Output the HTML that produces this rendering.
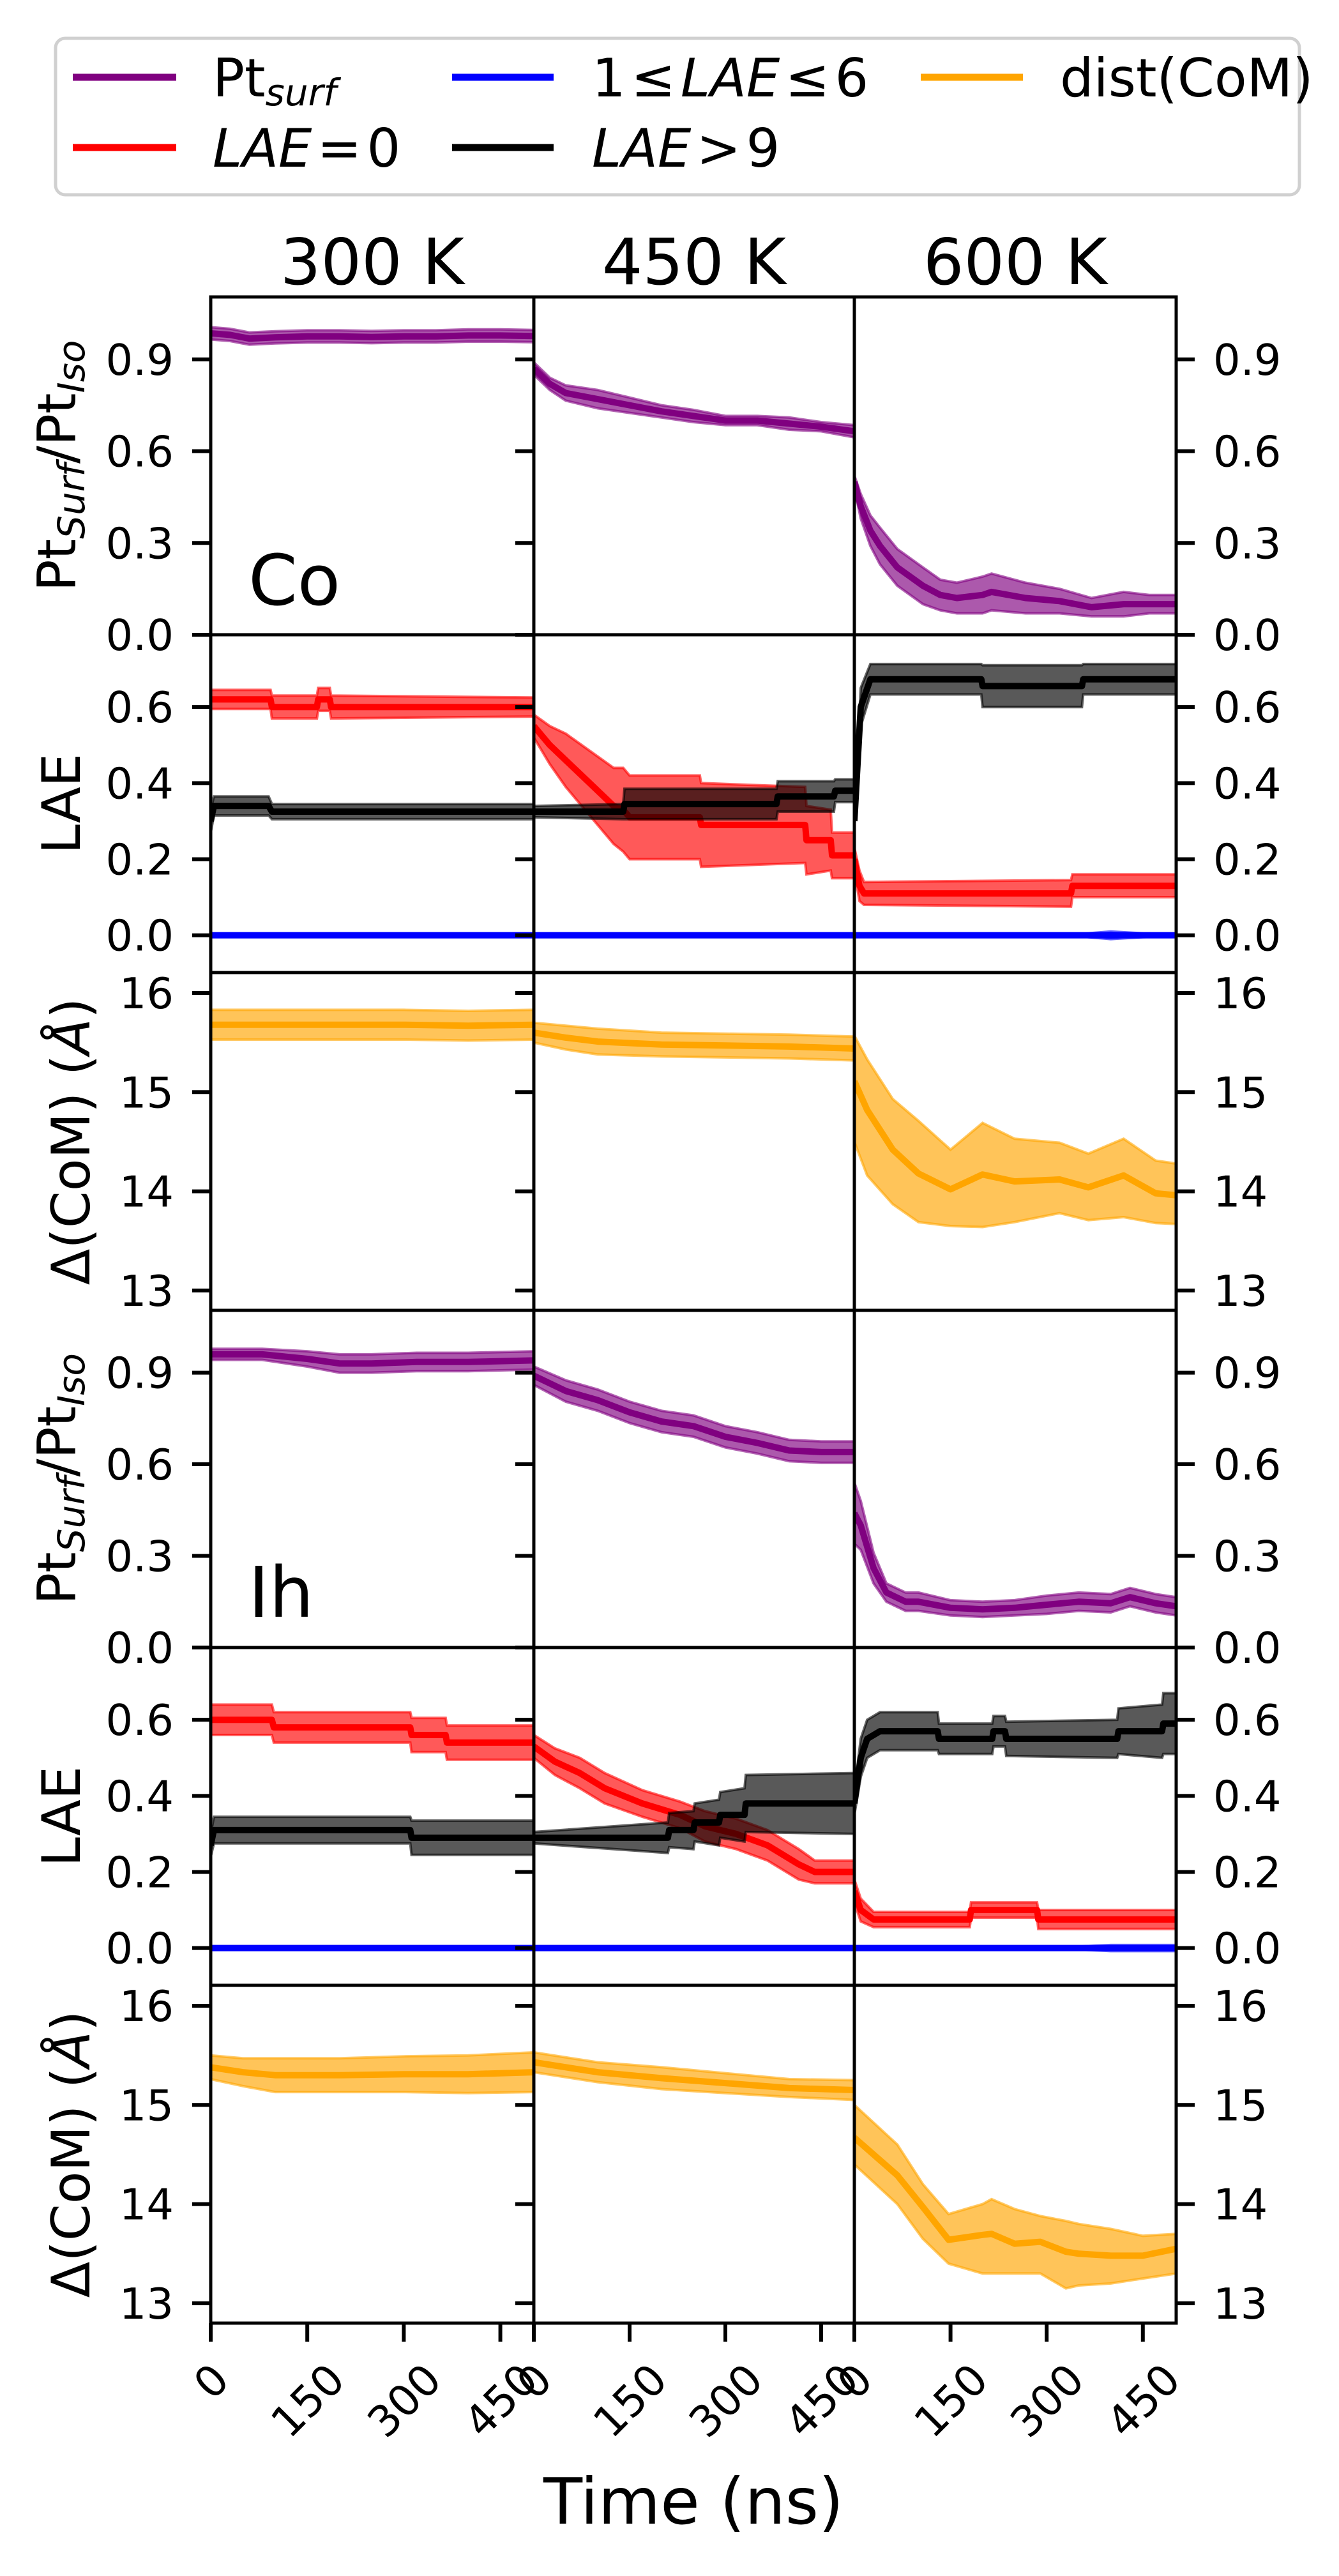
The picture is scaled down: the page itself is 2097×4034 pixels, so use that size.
<!DOCTYPE html>
<html><head><meta charset="utf-8">
<style>
html,body{margin:0;padding:0;background:#fff;}
svg{display:block;font-family:"DejaVu Sans","Liberation Sans",sans-serif;}
</style></head>
<body>
<svg id="fig" width="2097" height="4034" viewBox="0 0 2097 4034" xmlns="http://www.w3.org/2000/svg">
<rect width="2097" height="4034" fill="#fff"/>
<g>
<rect x="87" y="60" width="1948" height="245" rx="15" fill="#fff" stroke="#d0d0d0" stroke-width="5"/>
<line x1="114" y1="121" x2="276" y2="121" stroke="purple" stroke-width="11"/>
<text x="333" y="151" font-size="83">Pt<tspan font-size="58" dy="14" font-style="italic">surf</tspan></text>
<line x1="708" y1="121" x2="867" y2="121" stroke="blue" stroke-width="11"/>
<text x="927" y="151" font-size="83">1&#8202;≤&#8202;<tspan font-style="italic">LAE</tspan>&#8202;≤&#8202;6</text>
<line x1="1442" y1="121" x2="1602" y2="121" stroke="orange" stroke-width="11"/>
<text x="1660" y="151" font-size="83">dist(CoM)</text>
<line x1="114" y1="231" x2="276" y2="231" stroke="red" stroke-width="11"/>
<text x="333" y="261" font-size="83"><tspan font-style="italic">LAE</tspan>&#8202;=&#8202;0</text>
<line x1="708" y1="231" x2="867" y2="231" stroke="black" stroke-width="11"/>
<text x="927" y="261" font-size="83"><tspan font-style="italic">LAE</tspan>&#8202;&gt;&#8202;9</text>
</g>
<g id="plots"></g>
<text x="1086" y="3952" font-size="100" text-anchor="middle">Time (ns)</text>
</svg>
<script>
// ---- data: time (ns), mean, sd (or lo/hi) ----
const coPt300T=[0,30,60,100,150,200,250,300,350,400,450,502];
const coPt300M=[0.985,0.98,0.968,0.972,0.975,0.975,0.973,0.975,0.975,0.978,0.978,0.976];
const coPt300S=[0.02,0.02,0.02,0.02,0.02,0.02,0.02,0.02,0.02,0.02,0.02,0.02];
const coPt450T=[0,25,50,100,150,200,250,300,350,400,450,502];
const coPt450M=[0.87,0.82,0.79,0.77,0.75,0.73,0.715,0.70,0.70,0.69,0.68,0.665];
const coPt450S=[0.02,0.02,0.025,0.03,0.025,0.02,0.02,0.015,0.015,0.02,0.015,0.02];
const coPt600T=[0,10,25,40,67,107,134,160,200,214,267,320,370,420,460,502];
const coPt600M=[0.5,0.42,0.34,0.29,0.22,0.16,0.13,0.12,0.13,0.14,0.12,0.11,0.09,0.10,0.1,0.1];
const coPt600S=[0.02,0.04,0.05,0.06,0.06,0.06,0.05,0.05,0.06,0.06,0.05,0.04,0.03,0.04,0.03,0.03];

const coRed300T=[0,93,95,165,167,185,187,502];
const coRed300M=[0.62,0.62,0.60,0.60,0.62,0.62,0.60,0.60];
const coRed300S=[0.025,0.025,0.03,0.03,0.03,0.03,0.03,0.025];
const coBlk300T=[0,5,90,95,502];
const coBlk300M=[0.30,0.34,0.34,0.325,0.325];
const coBlk300S=[0.03,0.025,0.025,0.02,0.02];
const coRed450T=[0,25,50,75,100,125,140,150,260,262,425,427,465,467,502];
const coRed450M=[0.55,0.5,0.46,0.42,0.38,0.34,0.33,0.31,0.31,0.29,0.29,0.25,0.25,0.21,0.21];
const coRed450S=[0.03,0.05,0.07,0.08,0.09,0.1,0.11,0.11,0.11,0.11,0.1,0.09,0.08,0.06,0.06];
const coBlk450T=[0,140,142,380,382,470,472,502];
const coBlk450M=[0.325,0.325,0.345,0.345,0.365,0.365,0.38,0.38];
const coBlk450S=[0.015,0.02,0.04,0.04,0.04,0.04,0.03,0.03];
const coBlk600T=[0,10,25,198,200,355,357,502];
const coBlk600M=[0.3,0.6,0.673,0.673,0.655,0.655,0.673,0.673];
const coBlk600S=[0.02,0.05,0.04,0.04,0.055,0.055,0.04,0.04];
const coRed600T=[0,8,15,338,340,502];
const coRed600M=[0.2,0.13,0.11,0.11,0.13,0.13];
const coRed600S=[0.03,0.04,0.03,0.035,0.03,0.03];
const blueT=[0,350,400,450,502];
const blueM=[0,0,0,0,0];
const blueS=[0.002,0.002,0.002,0.002,0.002];
const blue600S=[0.002,0.003,0.01,0.005,0.003];

const coCom300T=[0,100,200,300,400,502];
const coCom300M=[15.68,15.68,15.68,15.68,15.67,15.68];
const coCom300S=[0.15,0.15,0.15,0.15,0.15,0.15];
const coCom450T=[0,50,100,200,300,400,502];
const coCom450M=[15.6,15.55,15.51,15.48,15.47,15.46,15.44];
const coCom450S=[0.1,0.12,0.13,0.12,0.12,0.12,0.12];
const coCom600T=[0,20,60,100,150,200,250,320,365,420,470,502];
const coCom600M=[15.11,14.82,14.42,14.18,14.02,14.17,14.1,14.12,14.04,14.16,13.98,13.96];
const coCom600Hi=[15.57,15.33,14.93,14.71,14.42,14.69,14.53,14.49,14.38,14.53,14.31,14.28];
const coCom600Lo=[14.5,14.16,13.87,13.69,13.65,13.64,13.69,13.78,13.71,13.74,13.68,13.67];

const ihPt300T=[0,80,150,200,250,320,400,502];
const ihPt300M=[0.96,0.96,0.945,0.93,0.93,0.935,0.935,0.94];
const ihPt300S=[0.018,0.018,0.025,0.03,0.03,0.03,0.03,0.03];
const ihPt450T=[0,50,100,150,200,250,300,350,400,450,502];
const ihPt450M=[0.89,0.84,0.81,0.77,0.74,0.725,0.69,0.67,0.645,0.64,0.64];
const ihPt450S=[0.03,0.035,0.035,0.035,0.035,0.035,0.035,0.035,0.035,0.035,0.035];
const ihPt600T=[0,10,30,50,80,100,150,200,250,300,350,400,430,470,502];
const ihPt600M=[0.44,0.40,0.26,0.18,0.15,0.15,0.13,0.125,0.13,0.14,0.15,0.145,0.165,0.145,0.135];
const ihPt600S=[0.1,0.08,0.05,0.03,0.03,0.03,0.025,0.025,0.025,0.03,0.03,0.03,0.03,0.03,0.03];

const ihRed300T=[0,95,98,310,312,365,367,502];
const ihRed300M=[0.6,0.6,0.58,0.58,0.56,0.56,0.54,0.54];
const ihRed300S=[0.04,0.04,0.04,0.04,0.045,0.045,0.045,0.045];
const ihBlk300T=[0,5,310,312,502];
const ihBlk300M=[0.27,0.31,0.31,0.29,0.29];
const ihBlk300S=[0.03,0.035,0.035,0.045,0.045];
const ihRed450T=[0,33,72,111,170,229,268,317,366,415,440,502];
const ihRed450M=[0.53,0.49,0.46,0.42,0.38,0.35,0.32,0.3,0.27,0.22,0.2,0.2];
const ihRed450S=[0.03,0.035,0.04,0.04,0.035,0.035,0.04,0.04,0.04,0.04,0.03,0.03];
const ihBlk450T=[0,210,212,250,252,290,292,330,332,502];
const ihBlk450M=[0.29,0.29,0.31,0.31,0.33,0.33,0.35,0.35,0.38,0.38];
const ihBlk450S=[0.015,0.04,0.045,0.05,0.05,0.06,0.06,0.07,0.075,0.08];
const ihBlk600T=[0,10,20,40,130,132,215,217,235,237,410,412,480,482,502];
const ihBlk600M=[0.38,0.5,0.55,0.57,0.57,0.55,0.55,0.57,0.57,0.55,0.55,0.57,0.57,0.59,0.59];
const ihBlk600S=[0.03,0.05,0.05,0.05,0.05,0.04,0.04,0.04,0.04,0.045,0.05,0.06,0.07,0.08,0.08];
const ihRed600T=[0,10,30,180,182,285,287,502];
const ihRed600M=[0.15,0.1,0.075,0.075,0.1,0.1,0.075,0.075];
const ihRed600S=[0.03,0.03,0.02,0.02,0.02,0.02,0.025,0.025];
const ihBlue600S=[0.002,0.004,0.008,0.008,0.008];

const ihCom300T=[0,50,100,200,300,400,502];
const ihCom300M=[15.38,15.33,15.3,15.3,15.31,15.31,15.33];
const ihCom300S=[0.12,0.14,0.17,0.17,0.18,0.19,0.2];
const ihCom450T=[0,100,200,300,400,502];
const ihCom450M=[15.43,15.33,15.27,15.22,15.17,15.15];
const ihCom450S=[0.1,0.1,0.11,0.1,0.09,0.1];
const ihCom600T=[0,67,107,147,200,214,250,290,330,350,400,450,502];
const ihCom600M=[14.67,14.29,13.97,13.64,13.69,13.7,13.6,13.62,13.52,13.5,13.48,13.48,13.55];
const ihCom600Hi=[15.0,14.6,14.2,13.9,14.0,14.05,13.95,13.88,13.83,13.8,13.75,13.68,13.7];
const ihCom600Lo=[14.4,14.0,13.65,13.4,13.3,13.3,13.3,13.3,13.15,13.18,13.2,13.25,13.3];

const colTitles=["300 K","450 K","600 K"];
const xTicks=[0,150,300,450];
const ptTicks=[0.0,0.3,0.6,0.9];
const laeTicks=[0.0,0.2,0.4,0.6];
const comTicks=[13,14,15,16];

// ---- layout ----
const NS="http://www.w3.org/2000/svg";
const colX=[330,836,1338,1842];
const rowY=[465,994,1523,2052,2580,3109,3638];
const XMAX=502;
const ranges={pt:[0,1.104],lae:[-0.098,0.79],com:[12.80,16.206]};
const tickSets={pt:ptTicks,lae:laeTicks,com:comTicks};
const fmt={pt:v=>v.toFixed(1),lae:v=>v.toFixed(1),com:v=>String(v)};
const plots=document.getElementById('plots');
function mk(tag,attrs,parent){const e=document.createElementNS(NS,tag);for(const k in attrs)e.setAttribute(k,attrs[k]);(parent||plots).appendChild(e);return e;}
function xs(c,t){return colX[c]+(colX[c+1]-colX[c])*t/XMAX;}
function ys(r,kind,v){const [a,b]=ranges[kind];return rowY[r+1]-(v-a)/(b-a)*(rowY[r+1]-rowY[r]);}

const colors={purple:'purple',red:'red',black:'black',blue:'blue',orange:'orange'};
function series(r,c,kind,color,T,M,S,Lo,Hi,name){
  const g=mk('g',{'clip-path':'url(#clip'+r+'_'+c+')'});
  
  
  const up=[],dn=[],mid=[];
  for(let i=0;i<T.length;i++){
    const hi=Hi?Hi[i]:M[i]+S[i], lo=Lo?Lo[i]:M[i]-S[i];
    const x=xs(c,T[i]);
    up.push(x.toFixed(1)+','+ys(r,kind,hi).toFixed(1));
    dn.push(x.toFixed(1)+','+ys(r,kind,lo).toFixed(1));
    mid.push(x.toFixed(1)+','+ys(r,kind,M[i]).toFixed(1));
  }
  const band=mk('polygon',{points:up.concat(dn.slice().reverse()).join(' '),fill:color,'fill-opacity':0.65},g);
  
  
  mk('polyline',{points:up.join(' '),fill:'none',stroke:color,'stroke-opacity':0.6,'stroke-width':4},g);
  mk('polyline',{points:dn.join(' '),fill:'none',stroke:color,'stroke-opacity':0.6,'stroke-width':4},g);
  const line=mk('polyline',{points:mid.join(' '),fill:'none',stroke:color,'stroke-width':10,'stroke-linejoin':'round'},g);
  
  
}

const defs=mk('defs',{});
const kinds=['pt','lae','com','pt','lae','com'];
for(let r=0;r<6;r++)for(let c=0;c<3;c++){
  const cp=mk('clipPath',{id:'clip'+r+'_'+c},defs);
  mk('rect',{x:colX[c],y:rowY[r],width:colX[c+1]-colX[c],height:rowY[r+1]-rowY[r]},cp);
}

const temps=['300','450','600'];
const pd=[[coPt300T,coPt300M,coPt300S],[coPt450T,coPt450M,coPt450S],[coPt600T,coPt600M,coPt600S]];
const pdIh=[[ihPt300T,ihPt300M,ihPt300S],[ihPt450T,ihPt450M,ihPt450S],[ihPt600T,ihPt600M,ihPt600S]];
for(let c=0;c<3;c++){
  series(0,c,'pt',colors.purple,pd[c][0],pd[c][1],pd[c][2],null,null,'co-pt-surf-'+temps[c]);
  series(3,c,'pt',colors.purple,pdIh[c][0],pdIh[c][1],pdIh[c][2],null,null,'ih-pt-surf-'+temps[c]);
}
series(1,0,'lae','red',coRed300T,coRed300M,coRed300S,null,null,'co-lae0-300');
series(1,0,'lae','black',coBlk300T,coBlk300M,coBlk300S,null,null,'co-lae9-300');
series(1,1,'lae','red',coRed450T,coRed450M,coRed450S,null,null,'co-lae0-450');
series(1,1,'lae','black',coBlk450T,coBlk450M,coBlk450S,null,null,'co-lae9-450');
series(1,2,'lae','black',coBlk600T,coBlk600M,coBlk600S,null,null,'co-lae9-600');
series(1,2,'lae','red',coRed600T,coRed600M,coRed600S,null,null,'co-lae0-600');
series(1,0,'lae','blue',blueT,blueM,blueS,null,null,'co-lae16-300');
series(1,1,'lae','blue',blueT,blueM,blueS,null,null,'co-lae16-450');
series(1,2,'lae','blue',blueT,blueM,blue600S,null,null,'co-lae16-600');
series(4,0,'lae','red',ihRed300T,ihRed300M,ihRed300S,null,null,'ih-lae0-300');
series(4,0,'lae','black',ihBlk300T,ihBlk300M,ihBlk300S,null,null,'ih-lae9-300');
series(4,1,'lae','red',ihRed450T,ihRed450M,ihRed450S,null,null,'ih-lae0-450');
series(4,1,'lae','black',ihBlk450T,ihBlk450M,ihBlk450S,null,null,'ih-lae9-450');
series(4,2,'lae','black',ihBlk600T,ihBlk600M,ihBlk600S,null,null,'ih-lae9-600');
series(4,2,'lae','red',ihRed600T,ihRed600M,ihRed600S,null,null,'ih-lae0-600');
series(4,0,'lae','blue',blueT,blueM,blueS,null,null,'ih-lae16-300');
series(4,1,'lae','blue',blueT,blueM,blueS,null,null,'ih-lae16-450');
series(4,2,'lae','blue',blueT,blueM,ihBlue600S,null,null,'ih-lae16-600');
series(2,0,'com','orange',coCom300T,coCom300M,coCom300S,null,null,'co-com-300');
series(2,1,'com','orange',coCom450T,coCom450M,coCom450S,null,null,'co-com-450');
series(2,2,'com','orange',coCom600T,coCom600M,null,coCom600Lo,coCom600Hi,'co-com-600');
series(5,0,'com','orange',ihCom300T,ihCom300M,ihCom300S,null,null,'ih-com-300');
series(5,1,'com','orange',ihCom450T,ihCom450M,ihCom450S,null,null,'ih-com-450');
series(5,2,'com','orange',ihCom600T,ihCom600M,null,ihCom600Lo,ihCom600Hi,'ih-com-600');

for(let r=0;r<6;r++){
  const kind=kinds[r];
  for(let c=0;c<3;c++){
    const fr=mk('rect',{x:colX[c],y:rowY[r],width:colX[c+1]-colX[c],height:rowY[r+1]-rowY[r],fill:'none',stroke:'#000','stroke-width':5});
    
    
  }
  for(const v of tickSets[kind]){
    const y=ys(r,kind,v);
    mk('line',{x1:colX[0]-29,x2:colX[0],y1:y,y2:y,stroke:'#000','stroke-width':6});
    mk('line',{x1:colX[1]-29,x2:colX[1],y1:y,y2:y,stroke:'#000','stroke-width':6});
    mk('line',{x1:colX[3],x2:colX[3]+29,y1:y,y2:y,stroke:'#000','stroke-width':6});
    const tl=mk('text',{x:colX[0]-58,y:y+24,'font-size':67,'text-anchor':'end'});
    tl.textContent=fmt[kind](v);
    
    
    const tr=mk('text',{x:colX[3]+58,y:y+24,'font-size':67,'text-anchor':'start'});
    tr.textContent=fmt[kind](v);
    
    
  }
  const cy=(rowY[r]+rowY[r+1])/2;
  let lx;
  const yl=mk('text',{'font-size':83,'text-anchor':'middle'});
  if(kind==='pt'){lx=118;yl.innerHTML='Pt<tspan font-size="58" dy="14" font-style="italic">Surf</tspan><tspan dy="-14">/Pt</tspan><tspan font-size="58" dy="14" font-style="italic">Iso</tspan>';}
  else if(kind==='lae'){lx=125;yl.textContent='LAE';}
  else {lx=140;yl.innerHTML='Δ(CoM) (<tspan font-style="italic">Å</tspan>)';}
  yl.setAttribute('x',lx);yl.setAttribute('y',cy);
  yl.setAttribute('transform','rotate(-90 '+lx+' '+cy+')');
  
  
}
for(let c=0;c<3;c++){
  const t=mk('text',{x:(colX[c]+colX[c+1])/2,y:445,'font-size':100,'text-anchor':'middle'});
  t.textContent=colTitles[c];
  
  
}
for(let c=0;c<3;c++){
  for(const v of xTicks){
    const x=xs(c,v);
    mk('line',{x1:x,x2:x,y1:rowY[6],y2:rowY[6]+29,stroke:'#000','stroke-width':6});
    const s=String(v);
    const w=s.length*0.636*67, h=0.73*67;
    const cyy=rowY[6]+58+(w+h)*0.707/2;
    const t=mk('text',{x:x,y:cyy+h/2,'font-size':67,'text-anchor':'middle',transform:'rotate(-45 '+x+' '+cyy+')'});
    t.textContent=s;
    
    
  }
}
const co=mk('text',{x:389,y:947,'font-size':110});
co.textContent='Co';


const ih=mk('text',{x:389,y:2532,'font-size':110});
ih.textContent='Ih';


</script>
</body></html>
